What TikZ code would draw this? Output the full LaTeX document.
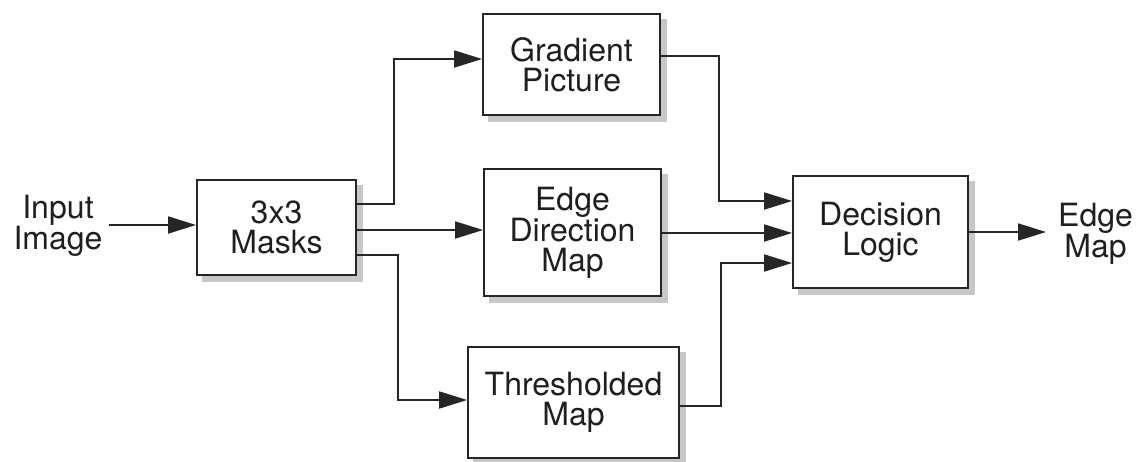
\documentclass[tikz,border=0pt]{standalone}
\usepackage{fontspec}
\setmainfont{TeX Gyre Heros}
\usetikzlibrary{arrows.meta,calc,backgrounds}
\begin{document}
\begin{tikzpicture}[x=1pt,y=-1pt,
  txt/.style={font=\fontsize{32}{30}\selectfont,text=black!88},
  box/.style={txt,draw=black!85,line width=1.8pt,fill=white,align=center,inner sep=0pt},
  lbl/.style={txt,align=center,inner sep=0pt},
  shade/.style={fill=black!22,draw=none},
  ln/.style={line width=1.8pt,draw=black!85},
  arr/.style={ln,-{Triangle[length=28pt,width=17pt]}}]
\useasboundingbox (0,0) rectangle (1141,461);

\node[box,minimum width=159pt,minimum height=95pt] (masks) at (276.5,227.5) {3x3\\Masks};
\node[box,minimum width=177pt,minimum height=101pt] (grad) at (571.5,64.5) {Gradient\\Picture};
\node[box,minimum width=177pt,minimum height=127pt] (edir) at (572.5,232.5) {Edge\\Direction\\Map};
\node[box,minimum width=211pt,minimum height=111pt] (thr) at (573.5,402.5) {Thresholded\\Map};
\node[box,minimum width=175pt,minimum height=112pt] (dec) at (880.5,232) {Decision\\Logic};

\begin{scope}[on background layer]
  \foreach \n in {masks,grad,edir,thr,dec}
    \fill[shade] ($(\n.south west)+(6,6)$) rectangle ($(\n.north east)+(6,6)$);
\end{scope}

\node[lbl] (in) at (58,226) {Input\\Image};
\node[lbl,anchor=west] (out) at (1058,234) {Edge\\Map};

% input and output
\draw[arr] ($(in.east)+(6,-1)$) -- ($(masks.west)+(0,-2.5)$);
\draw[arr] (dec.east) -- ($(out.west)+(-12,-2)$);

% from masks
\coordinate (m1) at ($(masks.east)+(0,-23.5)$);
\coordinate (m2) at ($(masks.east)+(0,2.5)$);
\coordinate (m3) at ($(masks.east)+(0,27.5)$);
\draw[arr] (m1) -- (394,204) -- (394,59) -- (grad.west |- 0,59);
\draw[arr] (m2) -- (edir.west |- m2);
\draw[arr] (m3) -- (398,255) -- (398,400) -- (thr.west |- 0,400);

% into decision
\coordinate (d1) at ($(dec.west)+(0,-31)$);
\coordinate (d2) at ($(dec.west)+(0,1)$);
\coordinate (d3) at ($(dec.west)+(0,31)$);
\draw[arr] (grad.east |- 0,56) -- (719,56) -- (719,201) -- (d1);
\draw[arr] (edir.east |- d2) -- (d2);
\draw[arr] (thr.east |- 0,406) -- (721,406) -- (721,263) -- (d3);
\end{tikzpicture}
\end{document}
